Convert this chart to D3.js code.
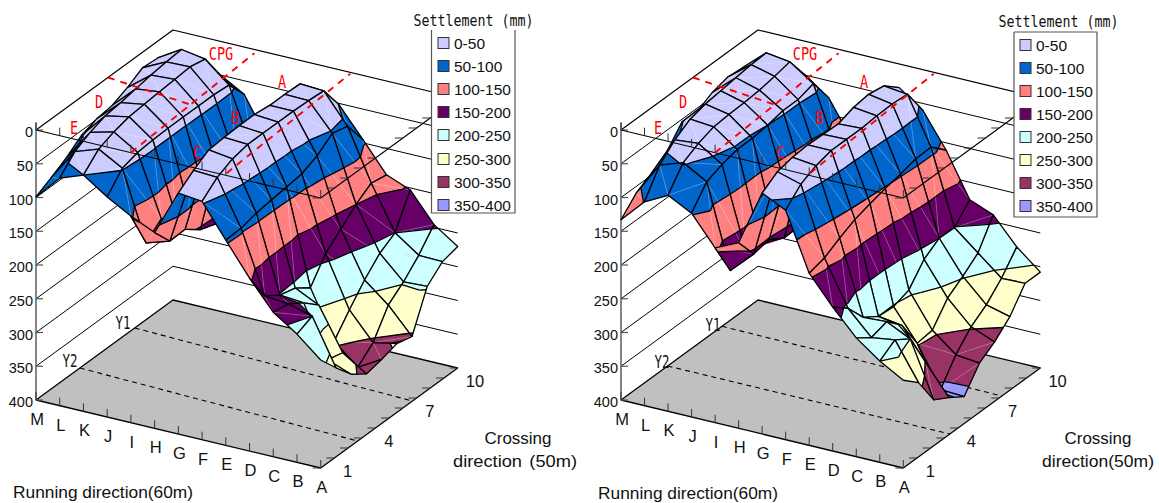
<!DOCTYPE html>
<html><head><meta charset="utf-8">
<script src="https://cdn.jsdelivr.net/npm/d3@7"></script>
<style>html,body{margin:0;padding:0;background:#fff;overflow:hidden}svg{display:block}</style>
</head><body><svg id="c" width="1159" height="503"></svg>
<script>
// ---- data ----
const runningLabels = ["A","B","C","D","E","F","G","H","I","J","K","L","M"];
const crossingLabels = [1,2,3,4,5,6,7,8,9,10,11];
const crossingShown = [1,4,7,10];
const depthTicks = [0,50,100,150,200,250,300,350,400];
const bandLabels = ["0-50","50-100","100-150","150-200","200-250","250-300","300-350","350-400"];
const bandColors = ["#CCCCFF","#0066CC","#FF8080","#660066","#CCFFFF","#FFFFCC","#993366","#9999FF"];
// rows: ten survey lines front to back, columns: A..M
const leftSettlement = [
 [240,210,186,144,96,47,43,110,94,74,50,63,99],
 [268,200,190,187,95,28,26,139,150,48,28,40,87],
 [294,281,205,202,89,17,12,138,131,41,19,28,74],
 [310,287,225,208,86,12,10,155,147,39,13,20,57],
 [305,325,295,224,83,12,9,163,165,38,11,17,49],
 [298,305,265,190,80,12,9,155,155,38,9,13,46],
 [304,266,237,170,70,12,12,143,143,38,7,9,36],
 [246,248,214,150,53,13,12,132,132,38,5,6,23],
 [226,225,200,135,59,15,13,130,130,40,10,4,25],
 [220,196,153,139,95,52,36,130,130,70,50,40,60]];
const rightSettlement = [
 [270,250,224,187,145,60,43,125,141,98,80,98,133],
 [290,235,240,205,139,38,28,158,191,68,48,60,110],
 [332,250,233,235,126,27,23,153,178,59,36,39,97],
 [345,301,255,250,115,21,21,167,185,53,28,25,82],
 [360,358,298,252,108,21,22,166,185,53,26,19,54],
 [327,323,295,244,102,21,23,155,162,50,25,16,55],
 [312,298,264,215,97,19,15,150,153,45,23,13,43],
 [291,282,248,200,91,18,12,142,142,45,19,10,37],
 [258,259,230,201,90,20,16,131,131,38,14,9,39],
 [258,229,190,176,111,60,35,130,130,75,50,45,70]];
const cpgLine = [[8.0,0],[8.41,9.72]];
const tunnelALine = [[4.07,0.18],[4.47,9.9]];
const tunnelDLine = [[12,5.25],[8.25,4.7]];
const leftY1 = [[12,7.2],[0,6.7]], leftY2 = [[12,3.2],[0,2.7]];
const rightY1 = [[12,7.37],[0,7.2]], rightY2 = [[12,3.4],[0,3.4]];

// ---- layout ----
const svg = d3.select("#c");
const lineGen = d3.line();
const SANS = "'Liberation Sans',Arial,sans-serif", MONO = "'DejaVu Sans Mono',monospace";
const levels = d3.range(0,401,50);

const panels = [
 {z:leftSettlement, ax:320.7, mx:36, y1:leftY1, y2:leftY2,
  lg:{x:431.5,w:83.5,y:30,h:183,top:false,sw:438,tx:454,ty:[43,66,89,112,135,159,182,205],tl:413.5,tly:20},
  red:{CPG:[221,53],A:[282,81],B:[235,117],C:[197,152],D:[99,101],E:[74,127]},
  yl:[[123,323],[70,361]], run:[13,492], cross:[518,438], dir:[515,461], dirText:"direction\u2009\u2009(50m)"},
 {z:rightSettlement, ax:903.3, mx:621, y1:rightY1, y2:rightY2,
  lg:{x:1014,w:83,y:32,h:185,top:true,sw:1020,tx:1036,ty:[45,68,91,114,137,160,183,206],tl:998.5,tly:21},
  red:{CPG:[805,53],A:[864,81],B:[819,117],C:[780,152],D:[683,101],E:[658,127]},
  yl:[[713,325],[662,362]], run:[598,493], cross:[1098,438], dir:[1098,461], dirText:"direction(50m)"}
];

function text(g,t,x,y,o={}){
  const n=g.append("text").text(t).attr("x",x).attr("y",y)
   .attr("text-anchor",o.anchor||"middle").attr("dominant-baseline","central")
   .attr("font-family",o.font||SANS).attr("font-size",o.size||16).attr("fill",o.fill||"#111");
  if(o.len) n.attr("textLength",o.len).attr("lengthAdjust","spacingAndGlyphs");
  return n;
}

panels.forEach(p=>{
  const g = svg.append("g");
  const xU = d3.scaleLinear([0,12],[p.ax,p.mx]);
  const xV = d3.scaleLinear([0,10],[0,137]);
  const yU = d3.scaleLinear([0,12],[0,-68]);
  const yV = d3.scaleLinear([0,10],[0,-100]);
  const yZ = d3.scaleLinear([0,400],[198,468]);
  const rowToV = d3.scaleLinear([0,p.z.length-1],[0,10]);
  const proj = (u,v,z)=>[xU(u)+xV(v), yZ(z)+yU(u)+yV(v)];
  const path = (pts,cfg)=>g.append("path").attr("d",lineGen(pts))
     .attr("fill",cfg.fill||"none").attr("stroke",cfg.stroke||"none")
     .attr("stroke-width",cfg.w||1).attr("stroke-dasharray",cfg.dash||null)
     .attr("stroke-linejoin","round");

  // base plane
  path([proj(0,0,400),proj(12,0,400),proj(12,10,400),proj(0,10,400),proj(0,0,400)],{fill:"#C0C0C0",stroke:"#000",w:1.3});
  // wall gridlines
  depthTicks.slice(0,-1).forEach(d=>{
    path([proj(12,0,d),proj(12,10,d),proj(0,10,d)],{stroke:"#000",w:d===0?1.2:1});
  });
  // vertical axis with ticks
  path([[p.mx,123],proj(12,0,400)],{stroke:"#666",w:1.6});
  depthTicks.forEach(d=>{
    const a=proj(12,0,d);
    path([a,[a[0]+7,a[1]]],{stroke:"#555",w:1.2});
    text(g,d,a[0]-3,a[1]+2,{anchor:"end",size:14.5});
  });
  // base ticks
  const ticksAt = z=>{
    runningLabels.forEach((l,i)=>{const a=proj(i,0,z); path([a,[a[0],a[1]-8]],{stroke:"#333",w:1});});
    d3.range(0,11).forEach(v=>{const a=proj(0,v,z); path([a,[a[0]-8,a[1]]],{stroke:"#333",w:1});});
  };
  ticksAt(400);
  // Y1, Y2
  [p.y1,p.y2].forEach(l=>path(l.map(q=>proj(q[0],q[1],400)),{stroke:"#000",w:1.1,dash:"5,4"}));
  text(g,"Y1",p.yl[0][0],p.yl[0][1],{font:MONO,size:17,len:15});
  text(g,"Y2",p.yl[1][0],p.yl[1][1],{font:MONO,size:17,len:15});

  // surface: back-to-front cells, each divided into two triangles, each triangle into bands
  const cells=[];
  for(let r=0;r<p.z.length-1;r++)for(let u=0;u<12;u++)cells.push([u,r]);
  cells.sort((a,b)=>(b[0]+b[1])-(a[0]+a[1]));
  const Z=p.z;
  const clip=(tri,lo,hi)=>{
    const cut=(poly,lev,keepAbove)=>{
      const out=[];
      poly.forEach((a,i)=>{
        const b=poly[(i+1)%poly.length];
        const ai=keepAbove?a[2]>=lev:a[2]<=lev, bi=keepAbove?b[2]>=lev:b[2]<=lev;
        if(ai)out.push(a);
        if(ai!==bi){const t=(lev-a[2])/(b[2]-a[2]);out.push([a[0]+t*(b[0]-a[0]),a[1]+t*(b[1]-a[1]),lev]);}
      });
      return out;
    };
    let q=cut(tri,lo,true); if(q.length) q=cut(q,hi,false); return q;
  };
  const sc=q=>proj(q[0],rowToV(q[1]),q[2]);
  cells.forEach(([u,r])=>{
    const c=[[u,r],[u+1,r],[u+1,r+1],[u,r+1]].map(([a,b])=>[a,b,Z[b][a]]);
    const d1=Math.abs(c[0][2]-c[2][2]), d2=Math.abs(c[1][2]-c[3][2]);
    const tris=d1<=d2?[[c[0],c[1],c[2]],[c[0],c[2],c[3]]]:[[c[0],c[1],c[3]],[c[1],c[2],c[3]]];
    const diag=d1<=d2?[c[0],c[2]]:[c[1],c[3]];
    tris.forEach(tri=>{
      bandColors.forEach((col,b)=>{
        const poly=clip(tri,levels[b],levels[b+1]);
        if(poly.length>2) path(poly.map(sc).concat([sc(poly[0])]),{fill:col,stroke:col,w:0.4});
      });
    });
    path(diag.map(sc),{stroke:"rgba(255,255,255,0.4)",w:0.6});
    tris.forEach(tri=>{
      levels.slice(1,-1).forEach(lev=>{
        const pts=[];
        tri.forEach((a,i)=>{
          const b=tri[(i+1)%3];
          if((a[2]<lev)!==(b[2]<lev)){const t=(lev-a[2])/(b[2]-a[2]);pts.push([a[0]+t*(b[0]-a[0]),a[1]+t*(b[1]-a[1]),lev]);}
        });
        if(pts.length===2) path(pts.map(sc),{stroke:"#000",w:1.3});
      });
    });
    path(c.concat([c[0]]).map(sc),{stroke:"#000",w:1.3});
  });

  // top frame drawn over the surface
  path([proj(12,0,0),proj(0,0,0),proj(0,10,0)],{stroke:"#000",w:1.1});
  ticksAt(0);
  // red annotation
  [cpgLine,tunnelALine,tunnelDLine].forEach(l=>path(l.map(q=>proj(q[0],q[1],0)),{stroke:"#FF0000",w:1.9,dash:"7,6"}));
  Object.entries(p.red).forEach(([k,c])=>text(g,k,c[0],c[1],{font:MONO,size:18,fill:"#FF0000",len:k.length*8.2}));

  // category labels
  const uPos=d3.scalePoint(runningLabels,[0,12]);
  runningLabels.forEach(l=>{const a=proj(uPos(l),0,400); text(g,l,a[0]+1,a[1]+19,{size:16.5});});
  const vPos=d3.scalePoint(crossingLabels,[0,10]);
  crossingShown.forEach(l=>{const a=proj(0,vPos(l),400); text(g,l,a[0]+27+(l===10?4:0),a[1]+3,{size:16.5});});

  // titles
  text(g,"Running direction(60m)",p.run[0],p.run[1],{anchor:"start",size:17,len:180});
  text(g,"Crossing",p.cross[0],p.cross[1],{size:17,len:67});
  text(g,p.dirText,p.dir[0],p.dir[1],{size:17,len:p.dirText.length>14?124:112});

  // legend
  const L=p.lg;
  g.append("rect").attr("x",L.x).attr("y",L.y).attr("width",L.w).attr("height",L.h).attr("fill","#fff");
  path(L.top?[[L.x,L.y],[L.x+L.w,L.y],[L.x+L.w,L.y+L.h],[L.x,L.y+L.h],[L.x,L.y]]:[[L.x,L.y],[L.x,L.y+L.h],[L.x+L.w,L.y+L.h],[L.x+L.w,L.y]],{stroke:"#555",w:1.2});
  text(g,"Settlement (mm)",L.tl,L.tly,{anchor:"start",font:MONO,size:16,len:120});
  bandLabels.forEach((b,i)=>{
    g.append("rect").attr("x",L.sw).attr("y",L.ty[i]-5.5).attr("width",11).attr("height",11)
     .attr("fill",bandColors[i]).attr("stroke","#333").attr("stroke-width",1);
    text(g,b,L.tx,L.ty[i],{anchor:"start",size:15.5});
  });
});
</script></body></html>
